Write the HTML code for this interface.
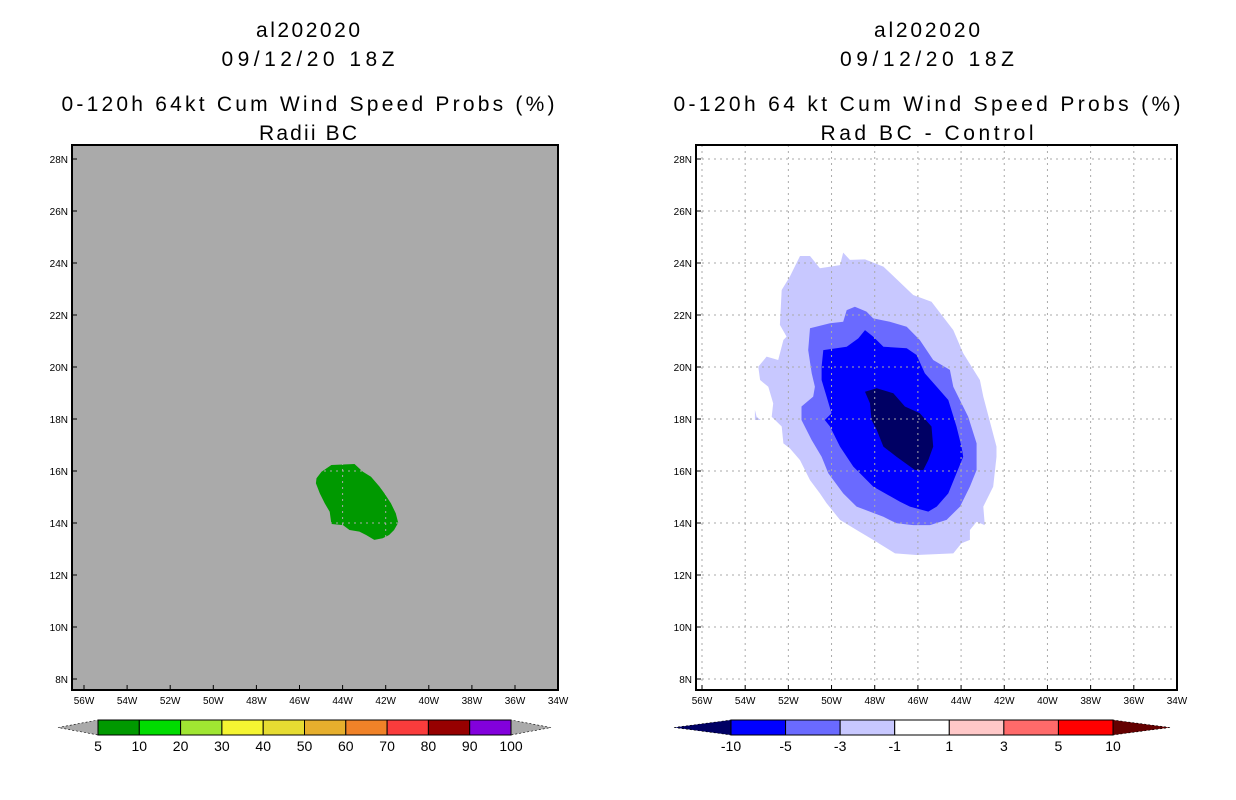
<!DOCTYPE html>
<html><head><meta charset="utf-8"><style>
body{margin:0;background:#fff;width:1236px;height:800px;overflow:hidden}
svg{display:block;font-family:"Liberation Sans",sans-serif}
</style></head><body>
<svg id="s" width="1236" height="800"></svg>
<script>
const lonTicks=[-56,-54,-52,-50,-48,-46,-44,-42,-40,-38,-36,-34];
const latTicks=[8,10,12,14,16,18,20,22,24,26,28];
const leftLevels=["5","10","20","30","40","50","60","70","80","90","100"];
const leftColors=["#009900","#00dc00","#a0e632","#f5f532","#e6dc32","#e6af2d","#f08228","#fa3c3c","#960000","#8200dc"];
const rightLevels=["-10","-5","-3","-1","1","3","5","10"];
const rightColors=["#0000ff","#6a6aff","#c8c8ff","#ffffff","#ffc8c8","#ff6a6a","#ff0000"];
const greenBlobLon=[-44.52,-43.45,-43.06,-42.68,-42.29,-42.06,-41.76,-41.53,-41.42,-41.61,-41.84,-42.14,-42.53,-42.91,-43.22,-43.68,-43.98,-44.52,-44.6,-44.83,-45.06,-45.24,-45.21,-44.98];
const greenBlobLat=[16.23,16.27,15.97,15.78,15.4,15.14,14.76,14.37,14.01,13.73,13.54,13.41,13.35,13.54,13.67,13.73,13.92,13.96,14.43,14.76,15.14,15.53,15.72,15.97];
const lightLon=[-51.46,-51,-50.54,-49.61,-49.46,-49.15,-48.45,-47.6,-46.22,-45.37,-44.36,-43.9,-43.13,-42.97,-42.36,-42.36,-42.51,-42.97,-42.9,-43.28,-43.59,-43.59,-43.98,-44.36,-46.06,-47.06,-48.07,-48.84,-49.61,-50.23,-50.54,-51,-51.46,-51.93,-52.23,-52.31,-52.77,-52.7,-52.93,-53.31,-53.39,-53.01,-52.47,-52.23,-52.08,-52.39,-52.31,-51.93];
const lightLat=[24.27,24.27,23.8,23.92,24.4,24.12,24.14,23.86,22.77,22.51,21.42,20.53,19.5,18.86,16.94,16.55,15.4,14.63,13.92,14.05,13.73,13.35,13.22,12.83,12.77,12.83,13.35,13.73,14.12,14.76,15.14,15.65,16.42,16.87,17.06,17.71,18.09,18.6,19.24,19.5,20.01,20.4,20.27,21.04,21.17,21.62,22.96,23.48];
const islandLon=[-53.55,-53.47,-53.28,-53.55];
const islandLat=[18.35,18.09,17.96,17.96];
const medLon=[-51,-50.07,-49.46,-49.3,-48.92,-48.38,-48.07,-47.3,-46.52,-45.91,-45.29,-44.52,-44.36,-43.67,-43.28,-43.28,-43.59,-44.05,-44.67,-45.44,-46.22,-46.99,-47.6,-48.84,-49.46,-50.15,-50.46,-50.92,-51.39,-51.39,-50.85,-50.77,-50.92,-51.08];
const medLat=[21.49,21.68,21.74,22.19,22.32,22.13,21.87,21.74,21.55,21.04,20.27,19.89,19.24,18.09,17.06,16.04,15.4,14.63,14.12,13.92,13.92,13.99,14.24,14.63,15.14,15.91,16.55,17.19,17.96,18.48,18.86,19.24,19.76,20.65];
const blueLon=[-50.46,-50.38,-49.3,-48.76,-48.45,-48.07,-47.6,-46.52,-46.06,-45.68,-45.13,-44.59,-44.21,-43.98,-43.9,-44.21,-44.59,-45.13,-45.52,-46.37,-46.83,-48.07,-48.99,-49.61,-50.07,-50.31,-50,-50.23,-50.46];
const blueLat=[20.01,20.65,20.78,21.1,21.42,21.17,20.78,20.72,20.46,19.76,19.24,18.73,17.71,16.94,16.55,15.91,15.14,14.63,14.44,14.63,14.82,15.4,16.17,16.94,17.71,17.96,18.22,18.86,19.5];
const darkLon=[-48.45,-47.91,-47.14,-46.6,-45.91,-45.37,-45.29,-45.52,-45.75,-46.14,-46.99,-47.6,-47.91,-48.15,-48.22];
const darkLat=[19.05,19.18,18.99,18.48,18.22,17.71,16.94,16.42,16.04,16.04,16.55,16.94,17.58,17.96,18.6];

const S=document.getElementById('s');
const NS="http://www.w3.org/2000/svg";
function mk(t,a,p){const e=document.createElementNS(NS,t);for(const k in a)e.setAttribute(k,a[k]);(p||S).appendChild(e);return e;}
function txt(x,y,s,size,p,anchor){const e=mk('text',{x:x,y:y,'font-size':size,'text-anchor':anchor||'middle',fill:'#000'},p);e.textContent=s;return e;}

function panel(cfg){
  const g=mk('g',{});
  
  
  const X=lon=>cfg.x0+(lon+56)*cfg.dx;
  const Y=lat=>159+(28-lat)*26;
  const t=[["al202020",37],["09/12/20 18Z",66],[cfg.t1,111],[cfg.t2,140]];
  t.forEach((r,i)=>{const e=txt(cfg.cx,r[1],r[0],21,g);
    e.setAttribute('textLength',cfg.tw[i]);
    e.setAttribute('lengthAdjust','spacing');
    
    });
  const bg=mk('rect',{x:cfg.L,y:145,width:cfg.R-cfg.L,height:545,fill:cfg.bg},g);
  
  
  cfg.polys.forEach(p=>{
    const pts=p.lon.map((v,i)=>X(v).toFixed(1)+','+Y(p.lat[i]).toFixed(1)).join(' ');
    const e=mk('polygon',{points:pts,fill:p.c},g);
    
    
  });
  lonTicks.forEach(l=>{
    const x=X(l);
    if(x>cfg.L+2&&x<cfg.R-2){const e=mk('line',{x1:x,x2:x,y1:145,y2:690,stroke:cfg.grid,'stroke-width':1,'stroke-dasharray':'2,4'},g);
      }
    mk('line',{x1:x,x2:x,y1:690,y2:685,stroke:'#000'},g);
    const e=txt(x,704,Math.abs(l)+'W',10,g);
    
  });
  latTicks.forEach(l=>{
    const y=Y(l);
    if(y>147&&y<688){const e=mk('line',{x1:cfg.L,x2:cfg.R,y1:y,y2:y,stroke:cfg.grid,'stroke-width':1,'stroke-dasharray':'2,4'},g);
      }
    mk('line',{x1:cfg.L,x2:cfg.L+5,y1:y,y2:y,stroke:'#000'},g);
    const e=txt(cfg.L-4,y+4,l+'N',10,g,'end');
    
  });
  const fr=mk('rect',{x:cfg.L,y:145,width:cfg.R-cfg.L,height:545,fill:'none',stroke:'#000','stroke-width':2},g);
  
  
  const cb=mk('g',{},g);
  
  
  const n=cfg.colors.length,w=(cfg.cb1-cfg.cb0)/n;
  mk('polygon',{points:`${cfg.cb0-cfg.tri},727.5 ${cfg.cb0},720 ${cfg.cb0},735`,fill:cfg.lowC,stroke:'#000','stroke-width':0.6,'stroke-dasharray':'2,2'},cb);
  mk('polygon',{points:`${cfg.cb1+cfg.tri},727.5 ${cfg.cb1},720 ${cfg.cb1},735`,fill:cfg.highC,stroke:'#000','stroke-width':0.6,'stroke-dasharray':'2,2'},cb);
  cfg.colors.forEach((c,i)=>{const e=mk('rect',{x:cfg.cb0+i*w,y:720,width:w,height:15,fill:c,stroke:'#000','stroke-width':1},cb);
    });
  cfg.levels.forEach((s,i)=>{const e=txt(cfg.cb0+i*w,751,s,14,cb);
    });
}
panel({name:'left-panel',cx:308,tw:[104,173,493,98],t1:'0-120h 64kt Cum Wind Speed Probs (%)',t2:'Radii BC',L:72,R:558,x0:84,dx:21.55,bg:'#aaaaaa',grid:'#aaaaaa',
  polys:[{lon:greenBlobLon,lat:greenBlobLat,c:'#009900',n:'prob-5-10-region'}],
  colors:leftColors,levels:leftLevels,cb0:98,cb1:511,tri:40,lowC:'#aaaaaa',highC:'#aaaaaa'});
panel({name:'right-panel',cx:927,tw:[106,174,507,213],t1:'0-120h 64 kt Cum Wind Speed Probs (%)',t2:'Rad BC - Control',L:696,R:1177,x0:702,dx:21.59,bg:'#ffffff',grid:'#aaaaaa',
  polys:[{lon:lightLon,lat:lightLat,c:'#c8c8ff',n:'diff-minus1-region'},{lon:islandLon,lat:islandLat,c:'#c8c8ff',n:'diff-minus1-island'},
    {lon:medLon,lat:medLat,c:'#6a6aff',n:'diff-minus3-region'},{lon:blueLon,lat:blueLat,c:'#0000ff',n:'diff-minus5-region'},
    {lon:darkLon,lat:darkLat,c:'#000064',n:'diff-minus10-region'}],
  colors:rightColors,levels:rightLevels,cb0:731,cb1:1113,tri:57,lowC:'#000064',highC:'#640000'});
</script>
</body></html>
